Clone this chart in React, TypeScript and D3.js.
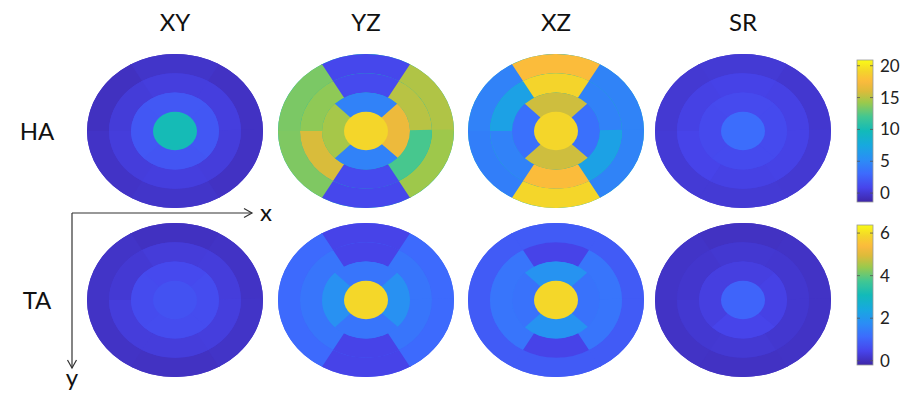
import React from "react";
import * as d3 from "d3";

// ---------- data ----------
const PLANES = ["XY", "YZ", "XZ", "SR"];
const ROWS = ["HA", "TA"];

// value order: [apex, ring1 (right, top, left, bottom), ring2 (0-60,60-120,120-180,180-240,240-300,300-360), ring3 (same 6)]
const HA_XY = [9.9, 1.9, 2.0, 1.9, 1.8, 0.4, 0.35, 0.2, 0.3, 0.4, 0.3, -0.5, -0.3, -0.6, -0.4, -0.3, -0.5];
const HA_YZ = [19.2, 16.8, 4.5, 14.5, 4.5, 15.0, 1.15, 13.9, 15.9, 1.15, 12.1, 14.8, 1.0, 13.4, 13.5, 1.0, 14.3];
const HA_XZ = [19.2, 3.4, 15.6, 3.4, 15.6, 4.5, 19.1, 6.9, 4.5, 17.7, 6.9, 4.6, 17.7, 4.5, 4.3, 19.2, 4.6];
const HA_SR = [3.2, 1.2, 1.15, 1.1, 1.2, 0.6, 0.7, 0.6, 0.75, 0.6, 0.65, -0.1, 0.05, 0.0, 0.1, 0.05, 0.0];

const TA_XY = [0.7, 0.6, 0.55, 0.58, 0.6, 0.3, 0.28, 0.22, 0.3, 0.3, 0.32, 0.08, 0.05, 0.1, 0.08, 0.06, 0.1];
const TA_YZ = [5.9, 1.85, 1.3, 1.85, 1.3, 1.3, 0.43, 1.3, 1.3, 0.43, 1.3, 1.1, 0.43, 1.1, 1.1, 0.43, 1.1];
const TA_XZ = [5.9, 1.25, 1.9, 1.25, 1.9, 1.3, 0.43, 1.3, 1.3, 0.43, 1.3, 0.85, 0.85, 0.85, 0.85, 0.85, 0.85];
const TA_SR = [1.0, 0.4, 0.35, 0.35, 0.45, 0.18, 0.2, 0.16, 0.2, 0.22, 0.18, 0.08, 0.06, 0.1, 0.08, 0.07, 0.08];

const HA_DOMAIN = [-1.4, 20.9];
const TA_DOMAIN = [-0.2, 6.38];
const HA_TICKS = [0, 5, 10, 15, 20];
const TA_TICKS = [0, 2, 4, 6];

const PARULA_T = [0, 0.1, 0.2, 0.3, 0.4, 0.5, 0.6, 0.7, 0.78, 0.85, 0.92, 1];
const PARULA_C = ["#3e26a8", "#4744eb", "#3d6bfd", "#2a8ef5", "#17a9df", "#12bab9", "#42c792", "#9bc94c", "#dcbb3a", "#fcba3d", "#f4d42b", "#f9fb15"];

// ---------- layout ----------
const W = 903, H = 394;
const COL_X = [175, 366, 556, 743];
const ROW_Y = [131, 300];
const RX = 88, RY = 77;

const parula = d3.scaleLinear<string>().domain(PARULA_T).range(PARULA_C).interpolate(d3.interpolateRgb).clamp(true);

const rScale = d3.scaleLinear().domain([0, 4]).range([0, RX]);
const arcGen = d3.arc<any>();

type Seg = { inner: number; outer: number; a0: number; a1: number; v: number };
function rings(vals: number[]): Seg[][] {
  const r3: Seg[] = [], r2: Seg[] = [], r1: Seg[] = [];
  for (let i = 0; i < 6; i++) r3.push({ inner: 3, outer: 4, a0: i * 60, a1: i * 60 + 60, v: vals[11 + i] });
  for (let i = 0; i < 6; i++) r2.push({ inner: 2, outer: 3, a0: i * 60, a1: i * 60 + 60, v: vals[5 + i] });
  for (let i = 0; i < 4; i++) r1.push({ inner: 1, outer: 2, a0: i * 90 - 45, a1: i * 90 + 45, v: vals[1 + i] });
  const r0: Seg[] = [{ inner: 0, outer: 1, a0: 0, a1: 360, v: vals[0] }];
  return [r3, r2, r1, r0];
}

function Bullseye({ vals, cx, cy, domain }: { vals: number[]; cx: number; cy: number; domain: number[] }) {
  const t = d3.scaleLinear().domain(domain).range([0, 1]);
  const rad = (a: number) => (a * Math.PI) / 180;
  return (
    <g transform={`translate(${cx},${cy}) scale(1,${RY / RX})`}>
      {rings(vals).map((ring, ri) => {
        const inner = Math.max(0, rScale(ring[0].inner) - 0.8);
        const outer = rScale(ring[0].outer);
        const mean = d3.mean(ring, (s) => s.v) as number;
        const base = arcGen({ innerRadius: inner, outerRadius: outer, startAngle: 0, endAngle: 2 * Math.PI }) as string;
        return (
          <g key={ri}>
            <path d={base} fill={parula(t(mean))} />
            {ring.length > 1 &&
              ring.map((s, i) => {
                const d = arcGen({
                  innerRadius: inner,
                  outerRadius: outer,
                  startAngle: Math.PI / 2 - rad(s.a1) - 0.02,
                  endAngle: Math.PI / 2 - rad(s.a0),
                }) as string;
                return <path key={i} d={d} fill={parula(t(s.v))} />;
              })}
          </g>
        );
      })}
    </g>
  );
}

function Colorbar({ id, y0, y1, domain, ticks }: { id: string; y0: number; y1: number; domain: number[]; ticks: number[] }) {
  const x0 = 857, w = 16;
  const y = d3.scaleLinear().domain(domain).range([y1, y0]);
  const stops = d3.range(0, 1.0001, 0.02);
  return (
    <g>
      <defs>
        <linearGradient id={id} x1="0" y1="1" x2="0" y2="0">
          {stops.map((s, i) => (
            <stop key={i} offset={s} stopColor={parula(s)} />
          ))}
        </linearGradient>
      </defs>
      <rect x={x0} y={y0} width={w} height={y1 - y0} fill={`url(#${id})`} stroke="#999" strokeWidth={0.8} />
      {ticks.map((tk) => (
        <g key={tk}>
          <line x1={x0 + w - 3} x2={x0 + w} y1={y(tk)} y2={y(tk)} stroke="#555" strokeWidth={0.8} />
          <line x1={x0} x2={x0 + 3} y1={y(tk)} y2={y(tk)} stroke="#555" strokeWidth={0.8} />
          <text x={880} y={y(tk)} dy="0.35em" fontSize={17} fill="#222" fontFamily="Lato, 'Open Sans', sans-serif">
            {tk}
          </text>
        </g>
      ))}
    </g>
  );
}

export default function App() {
  const data = [
    [HA_XY, HA_YZ, HA_XZ, HA_SR],
    [TA_XY, TA_YZ, TA_XZ, TA_SR],
  ];
  const domains = [HA_DOMAIN, TA_DOMAIN];
  const font = "Lato, 'Open Sans', sans-serif";
  return (
    <svg width={W} height={H} style={{ position: "absolute", left: 0, top: 0, background: "#fff" }}>
      {PLANES.map((p, i) => (
        <text key={p} x={COL_X[i]} y={31} textAnchor="middle" fontSize={24} fill="#111" fontFamily={font}>
          {p}
        </text>
      ))}
      {ROWS.map((r, i) => (
        <text key={r} x={37} y={ROW_Y[i] + 9} textAnchor="middle" fontSize={24} fill="#111" fontFamily={font}>
          {r}
        </text>
      ))}
      {data.map((row, ri) =>
        row.map((vals, ci) => (
          <Bullseye key={`${ri}-${ci}`} vals={vals} cx={COL_X[ci]} cy={ROW_Y[ri]} domain={domains[ri]} />
        ))
      )}
      {/* axes arrows */}
      <g stroke="#333" strokeWidth={1.2} fill="none">
        <line x1={72} y1={213} x2={252} y2={213} />
        <polyline points="244,208.5 252,213 244,217.5" />
        <line x1={72} y1={213} x2={72} y2={368} />
        <polyline points="67.5,360 72,368 76.5,360" />
      </g>
      <text x={266} y={221} textAnchor="middle" fontSize={24} fill="#111" fontFamily={font}>x</text>
      <text x={72} y={386} textAnchor="middle" fontSize={24} fill="#111" fontFamily={font}>y</text>
      <Colorbar id="cbHA" y0={60} y1={202} domain={HA_DOMAIN} ticks={HA_TICKS} />
      <Colorbar id="cbTA" y0={225} y1={365} domain={TA_DOMAIN} ticks={TA_TICKS} />
    </svg>
  );
}
